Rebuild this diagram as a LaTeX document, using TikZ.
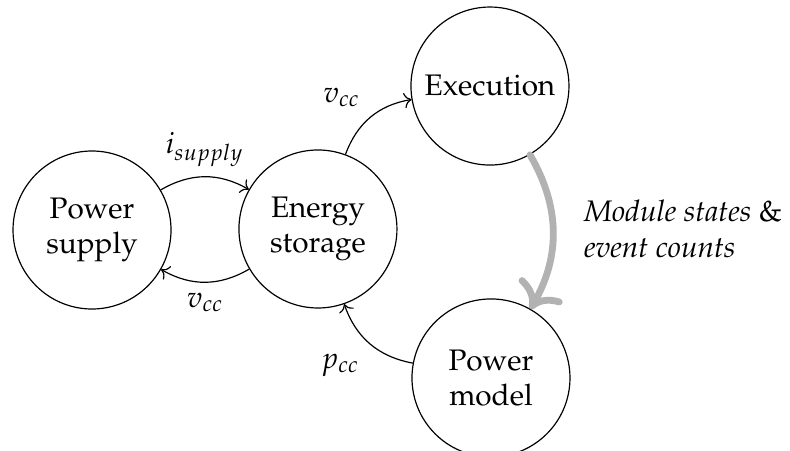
\documentclass[tikz,border=0pt]{standalone}
\usepackage[T1]{fontenc}
\usepackage{mathpazo}
\usetikzlibrary{arrows.meta}
\tikzset{
    block/.style={circle, draw, thin, minimum size=1.87cm, inner sep=0pt, align=center},
    flow/.style={-To, thin, bend left=30},
    data/.style={-{To[round, scale=1.2]}, line cap=round, line width=2.3pt, gray!60, bend left=30}
}

\begin{document}
\begin{tikzpicture}
    \useasboundingbox (0,0) rectangle (9.35,-5.337);
    \node[block] (supply) at (1.089,-2.722) {Power\\supply};
    \node[block] (storage) at (3.763,-2.710) {Energy\\storage};
    \node[block] (exec) at (5.799,-1.018) {Execution};
    \node[block] (model) at (5.811,-4.473) {Power\\model};

    % Versorgung <-> Speicher
    \draw[flow] (supply) to node[above] {$i_{supply}$} (storage);
    \draw[flow] (storage) to node[below] {$v_{cc}$} (supply);
    \draw[flow] (storage) to node[above left] {$v_{cc}$} (exec);
    \draw[flow] (model) to node[below left] {$p_{cc}$} (storage);
    % Zustaende -> Modell
    \draw[data] (exec) to node[right, black, align=left, xshift=6pt, yshift=1pt] {\textit{Module states} \&\\\textit{event counts}} (model);
\end{tikzpicture}
\end{document}
